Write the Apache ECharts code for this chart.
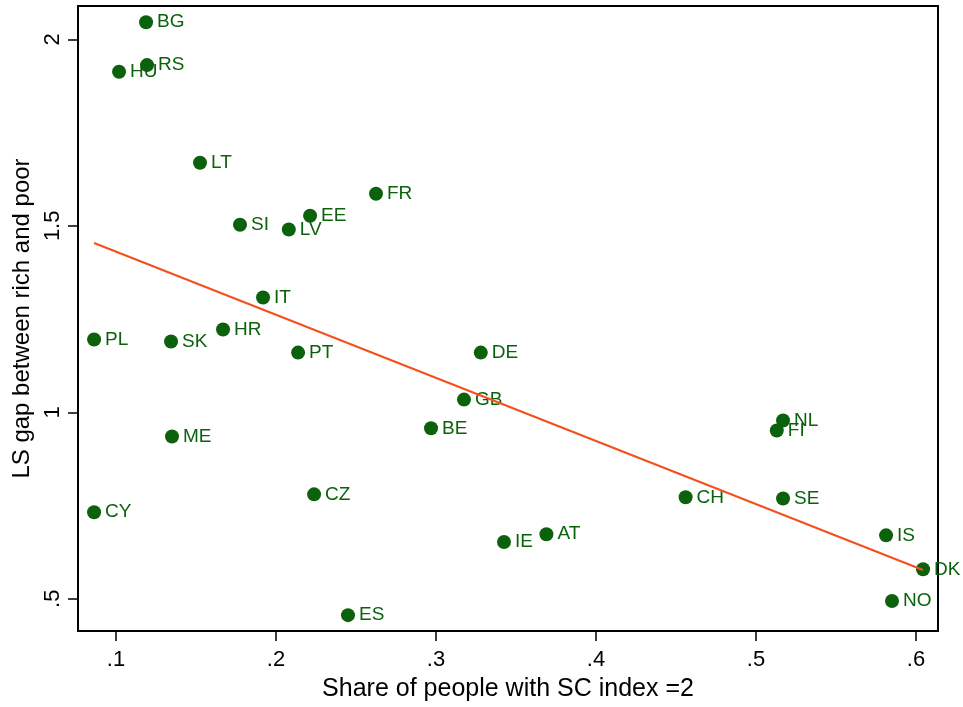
<!DOCTYPE html>
<html>
<head>
<meta charset="utf-8">
<script src="https://cdn.jsdelivr.net/npm/echarts@6/dist/echarts.min.js"></script>
<style>
html,body{margin:0;padding:0;background:#fff;}
#chart{width:963px;height:707px;}
</style>
</head>
<body>
<div id="chart"></div>
<script>
const countries = ["BG","RS","HU","LT","FR","EE","SI","LV","IT","HR","PL","SK","PT","DE","GB","BE","NL","FI","ME","CH","SE","CZ","CY","IS","AT","IE","DK","NO","ES"];
const scShare = [0.1188,0.1194,0.1019,0.1525,0.2625,0.2213,0.1775,0.2080,0.1919,0.1669,0.0863,0.1344,0.2138,0.3280,0.3175,0.2969,0.5169,0.5130,0.1350,0.4560,0.5169,0.2238,0.0863,0.5813,0.3690,0.3425,0.6044,0.5850,0.2450];
const lsGap = [2.046,1.931,1.913,1.669,1.586,1.527,1.503,1.490,1.308,1.222,1.195,1.190,1.160,1.160,1.034,0.957,0.978,0.951,0.935,0.772,0.769,0.780,0.732,0.670,0.673,0.652,0.579,0.494,0.456];
const fitX = [0.0863, 0.6044];
const fitY = [1.454, 0.577];
const xTicks = [0.1,0.2,0.3,0.4,0.5,0.6];
const xTickLabels = [".1",".2",".3",".4",".5",".6"];
const yTicks = [0.5,1,1.5,2];
const yTickLabels = [".5","1","1.5","2"];

const FONT = "'Liberation Sans', Arial, Helvetica, sans-serif";
const GREEN = "#0c620c";
const RED = "#f4511e";

function lookup(ticks, labels, v){
  for (let i=0;i<ticks.length;i++){ if (Math.abs(ticks[i]-v) < 1e-9) return labels[i]; }
  return "";
}

const pts = countries.map((c,i)=>({name:c, value:[scShare[i], lsGap[i]]}));
const fitData = fitX.map((x,i)=>[x, fitY[i]]);

const chart = echarts.init(document.getElementById('chart'), null, {renderer:'canvas'});
chart.setOption({
  animation:false,
  backgroundColor:'#fff',
  textStyle:{fontFamily:FONT},
  grid:{left:78,right:25,top:6,bottom:75,show:true,borderColor:'#000',borderWidth:2,backgroundColor:'transparent'},
  xAxis:{
    type:'value', min:0.07625, max:0.61375,
    name:'Share of people with SC index =2', nameLocation:'middle', nameGap:46,
    nameTextStyle:{color:'#000',fontSize:25,fontFamily:FONT},
    axisLine:{show:true,onZero:false,lineStyle:{color:'#000',width:2}},
    axisTick:{show:true,length:10,inside:false,customValues:xTicks,lineStyle:{color:'#000',width:1.5}},
    axisLabel:{customValues:xTicks,color:'#000',fontSize:22,fontFamily:FONT,margin:18,
      formatter:v=>lookup(xTicks,xTickLabels,v)},
    splitLine:{show:false}
  },
  yAxis:{
    type:'value', min:0.4135, max:2.0895,
    name:'LS gap between rich and poor', nameLocation:'middle', nameGap:36, nameRotate:90,
    nameTextStyle:{color:'#000',fontSize:24,fontFamily:FONT},
    axisLine:{show:true,onZero:false,lineStyle:{color:'#000',width:2}},
    axisTick:{show:true,length:10,inside:false,customValues:yTicks,lineStyle:{color:'#000',width:1.5}},
    axisLabel:{customValues:yTicks,color:'#000',fontSize:22,fontFamily:FONT,margin:14,rotate:90,
      formatter:v=>lookup(yTicks,yTickLabels,v)},
    splitLine:{show:false}
  },
  series:[
    {
      type:'scatter', data:pts, symbol:'circle', symbolSize:14,
      itemStyle:{color:GREEN,opacity:1},
      label:{show:true,position:'right',distance:4,color:GREEN,fontSize:19,fontFamily:FONT,
        formatter:p=>p.name},
      labelLayout:{hideOverlap:false},
      z:2
    },
    {
      type:'line', data:fitData, symbol:'none', showSymbol:false,
      lineStyle:{color:RED,width:2.2},
      z:5
    }
  ]
});
</script>
</body>
</html>
